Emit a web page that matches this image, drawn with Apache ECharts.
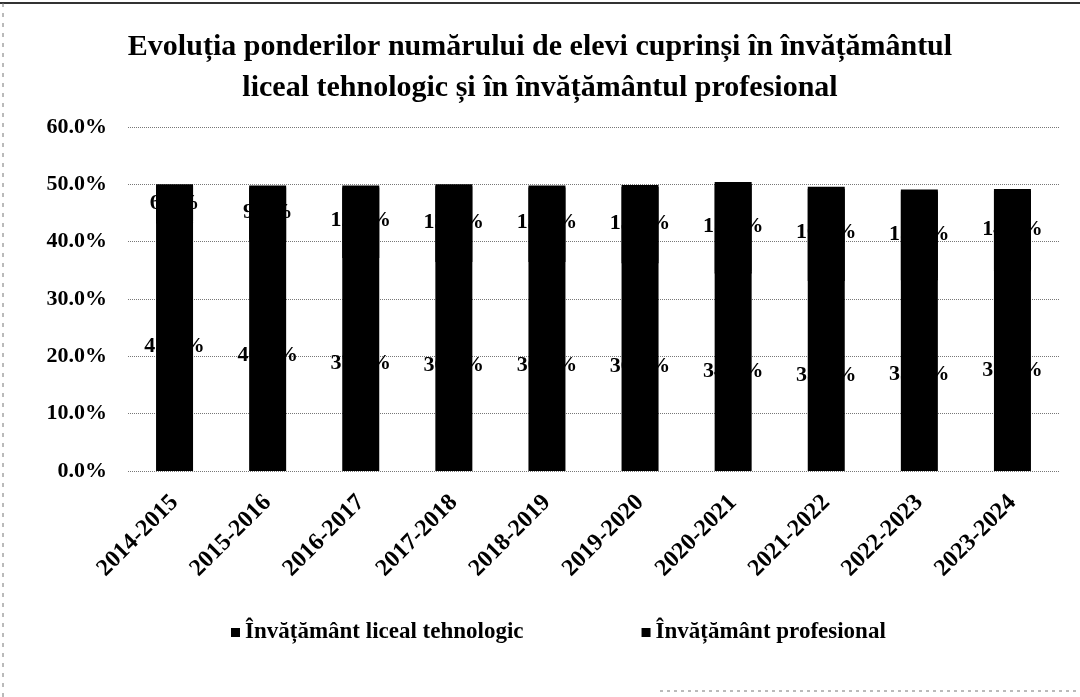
<!DOCTYPE html>
<html lang="ro">

<head>
  <meta charset="UTF-8">
  <title>Evoluția ponderilor</title>
  <script src="https://cdn.jsdelivr.net/npm/echarts@6.0.0/dist/echarts.min.js"></script>
  <style>
    html, body { margin: 0; padding: 0; background: #fff; }
    #main { width: 1080px; height: 697px; }
  </style>
</head>

<body>
  <div id="main"></div>
  <script>
    // valori (%)
    var years = ['2014-2015', '2015-2016', '2016-2017', '2017-2018', '2018-2019',
      '2019-2020', '2020-2021', '2021-2022', '2022-2023', '2023-2024']
    var liceal = [43.5, 40.4, 37.5, 36.8, 36.8, 36.6, 34.8, 33.5, 33.6, 35.2]
    var profesional = [6.5, 9.4, 12.3, 13.2, 13.0, 13.3, 15.6, 16.1, 15.5, 14.0]
    var seriesNames = ['Învățământ liceal tehnologic', 'Învățământ profesional']

    var font = "'Liberation Serif', 'Times New Roman', serif"
    var myChart = echarts.init(document.getElementById('main'))

    function barSeries(name, data, top) {
      var itemStyle = { color: '#000' }
      if (top) {
        // umbra neagra de 2px ascunde linia dintre segmente
        itemStyle.shadowColor = '#000'
        itemStyle.shadowBlur = 0
        itemStyle.shadowOffsetY = 2
      }
      return {
        name: name,
        type: 'bar',
        stack: 'total',
        data: data,
        barWidth: 37,
        itemStyle: itemStyle,
        label: {
          show: true,
          position: 'inside',
          color: '#000',
          fontFamily: font,
          fontWeight: 'bold',
          fontSize: 22,
          formatter: function (p) { return p.value.toFixed(1) + '%' }
        }
      }
    }

    var option = {
      backgroundColor: '#fff',
      animation: false,
      title: {
        text: 'Evoluția ponderilor numărului de elevi cuprinși în învățământul\nliceal tehnologic și în învățământul profesional',
        left: 'center',
        top: 22,
        textStyle: {
          fontFamily: font,
          fontWeight: 'bold',
          fontSize: 30,
          lineHeight: 41,
          color: '#000'
        }
      },
      legend: {
        bottom: 48,
        left: 226,
        itemGap: 118,
        icon: 'rect',
        itemWidth: 9,
        itemHeight: 9,
        textStyle: {
          fontFamily: font,
          fontWeight: 'bold',
          fontSize: 23,
          color: '#000'
        },
        data: seriesNames
      },
      grid: {
        left: 128,
        right: 21,
        top: 127,
        bottom: 226
      },
      xAxis: {
        type: 'category',
        data: years,
        axisTick: { show: false },
        axisLine: { show: false },
        axisLabel: {
          rotate: 45,
          margin: 28,
          fontFamily: font,
          fontWeight: 'bold',
          fontSize: 24,
          color: '#000'
        }
      },
      yAxis: {
        type: 'value',
        min: 0,
        max: 60,
        interval: 10,
        axisLine: { show: false },
        axisTick: { show: false },
        axisLabel: {
          margin: 21,
          fontFamily: font,
          fontWeight: 'bold',
          fontSize: 22,
          color: '#000',
          formatter: function (v) { return v.toFixed(1) + '%' }
        },
        splitLine: {
          lineStyle: { type: 'dotted', color: '#777', width: 1 }
        }
      },
      graphic: [
        { type: 'line', shape: { x1: 0, y1: 3, x2: 1080, y2: 3 }, style: { stroke: '#333', lineWidth: 2 } },
        { type: 'line', shape: { x1: 3, y1: 3, x2: 3, y2: 697 }, style: { stroke: '#777', lineWidth: 1, lineDash: [4, 6] } },
        { type: 'line', shape: { x1: 660, y1: 691, x2: 1080, y2: 691 }, style: { stroke: '#777', lineWidth: 1, lineDash: [3, 4] } }
      ],
      series: [
        barSeries(seriesNames[0], liceal, false),
        barSeries(seriesNames[1], profesional, true)
      ]
    }
    myChart.setOption(option)
  </script>
</body>

</html>
